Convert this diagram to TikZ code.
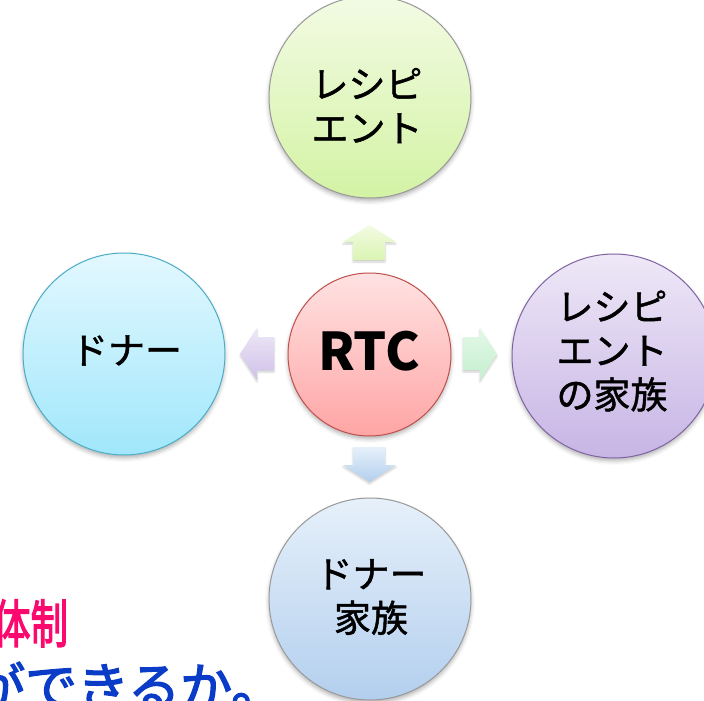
\documentclass[tikz,border=0pt]{standalone}
\usepackage{fontspec}
\setmainfont{Noto Sans CJK JP}
\newfontfamily\jpmed{Noto Sans CJK JP}[FakeBold=1.3]
\newfontfamily\jpheavy{Noto Sans CJK JP}[FakeBold=2.6]
\usetikzlibrary{shadows.blur}
\definecolor{gTop}{HTML}{F3FBE4}
\definecolor{gBot}{HTML}{D3F3A4}
\definecolor{rTop}{HTML}{FFE2E2}
\definecolor{rBot}{HTML}{FFA5A5}
\definecolor{rLine}{HTML}{C0504D}
\definecolor{cTop}{HTML}{E3F8FF}
\definecolor{cBot}{HTML}{A0E7FB}
\definecolor{cLine}{HTML}{4BACC6}
\definecolor{pTop}{HTML}{EEE8F7}
\definecolor{pBot}{HTML}{C7B5E5}
\definecolor{pLine}{HTML}{8064A2}
\definecolor{bTop}{HTML}{E6F0FA}
\definecolor{bBot}{HTML}{B3CFEE}
\definecolor{pinkTxt}{HTML}{FA0A6E}
\definecolor{blueTxt}{HTML}{0A3CC8}
\begin{document}
\begin{tikzpicture}[x=1pt,y=-1pt,
  bubble/.style={circle, inner sep=0pt, line width=1pt,
    blur shadow={shadow xshift=0pt, shadow yshift=-3pt, shadow blur radius=4pt, shadow opacity=30}},
  lbl/.style={inner sep=0pt, align=center, font=\jpmed\fontsize{37}{44}\selectfont},
  barrow/.style={draw=none, blur shadow={shadow xshift=0pt, shadow yshift=-2pt, shadow blur radius=2pt, shadow opacity=20}}]
\useasboundingbox (0,0) rectangle (704,701);
\clip (0,0) rectangle (704,701);

% circles
\node[bubble, minimum size=202pt, draw=gray!80, top color=gTop, bottom color=gBot] (rec) at (370,97) {};
\node[bubble, minimum size=202pt, draw=cLine, top color=cTop, bottom color=cBot] (don) at (124,354) {};
\node[bubble, minimum size=204pt, draw=pLine, top color=pTop, bottom color=pBot] (recf) at (614,356) {};
\node[bubble, minimum size=202pt, draw=gray!80, top color=bTop, bottom color=bBot] (donf) at (370,599) {};
\node[bubble, minimum size=163pt, draw=rLine, top color=rTop, bottom color=rBot] (rtc) at (369.5,354.5) {};

% texts
\node[lbl] (recT) at (367,105.5) {レシピ\\エント};
\node[lbl] (donT) at (126.5,350.5) {ドナー};
\node[lbl] (recfT) at (612,351) {レシピ\\エント\\の家族};
\node[lbl] (donfT) at (371,597) {ドナー\\家族};
\node[inner sep=0pt, font=\fontsize{52}{60}\selectfont\bfseries] (rtcT) at (369,351) {RTC};

% block arrows
\path[barrow, top color=gTop, bottom color=gBot!85]
  (353,260) -- (353,242) -- (343,242) -- (369.5,225) -- (396,242) -- (385,242) -- (385,260) -- cycle;
\path[barrow, top color=bTop, bottom color=bBot]
  (353,447) -- (385,447) -- (385,465) -- (396,465) -- (369.5,482) -- (343,465) -- (353,465) -- cycle;
\path[barrow, top color=pTop, bottom color=pBot!85]
  (274,337) -- (257,337) -- (257,328) -- (240,354) -- (257,380) -- (257,370) -- (274,370) -- cycle;
\path[barrow, top color={rgb,255:red,228;green,248;blue,232}, bottom color={rgb,255:red,196;green,239;blue,206}]
  (463,337) -- (480,337) -- (480,328) -- (497,354) -- (480,380) -- (480,370) -- (463,370) -- cycle;

% bottom-left partial text
\node[inner sep=0pt, anchor=base west, text=pinkTxt, font=\jpheavy\fontsize{52}{60}\selectfont] (t1) at (-7,643) {\scalebox{0.72}[1]{体制}};
\node[inner sep=0pt, anchor=base west, text=blueTxt, font=\jpheavy\fontsize{52}{60}\selectfont] (t2) at (-27,706) {ができるか。};
\end{tikzpicture}
\end{document}
